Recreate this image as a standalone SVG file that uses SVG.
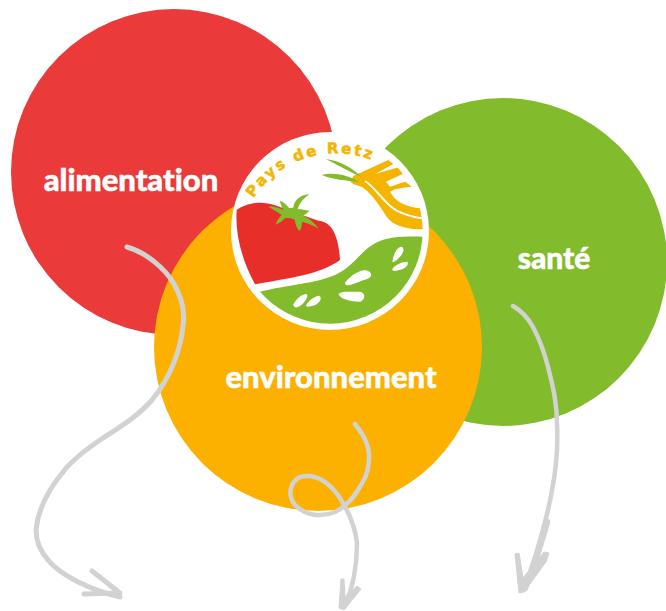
<svg xmlns="http://www.w3.org/2000/svg" width="666" height="611" viewBox="0 0 666 611">
<style>
.label{font-family:"Lato","Liberation Sans",sans-serif;font-weight:900;fill:#fff;stroke:#fff;stroke-width:.5;text-anchor:middle;font-variant-ligatures:none}
.arrow{fill:none;stroke:#d2d2d2;stroke-linecap:round;stroke-linejoin:round}
.head{fill:#d2d2d2;stroke:#d2d2d2;stroke-width:1;stroke-linejoin:round}
.wheat{fill:#f5b400}
.leaf{fill:#82bb2b}
.spot{fill:#fff}
</style>
<defs>
<path id="arc" d="M 53 395 A 295 295 0 0 1 643 395"/>
<clipPath id="inner"><circle cx="330" cy="333" r="278"/></clipPath>
</defs>
<g id="node-alimentation">
<circle cx="174" cy="172" r="163" fill="#ea3a3a"/>
<text class="label" x="131" y="191" font-size="31">alimentation</text>
</g>
<g id="node-sante">
<circle cx="503" cy="262" r="164" fill="#82bb2b"/>
<text class="label" x="554" y="269" font-size="30">santé</text>
</g>
<g id="node-environnement">
<circle cx="318" cy="347" r="164" fill="#fcb000"/>
<text class="label" x="331" y="388" font-size="31">environnement</text>
</g>
<g id="node-logo">
<circle cx="330" cy="231" r="99" fill="#fff"/>
<g transform="translate(220 120) scale(.33333)">
<g clip-path="url(#inner)">
<path class="leaf" d="M120 515C200 495 290 490 345 465C400 440 420 395 465 370C510 347 560 350 610 350L640 640L100 640Z"/>
<path class="wheat" d="M400 168L505 120L520 132L465 162L535 142L553 160L498 185L510 200L555 185L577 200C545 202 520 208 510 215C525 245 560 262 603 265L610 328C560 328 520 318 500 290C475 250 450 215 425 200C412 195 400 195 392 185Z"/>
<path d="M435 183C470 205 490 250 530 272C555 285 580 292 612 296" fill="none" stroke="#fff" stroke-width="6"/>
</g>
<path d="M50 270C75 250 125 240 165 256L295 302C330 305 355 335 360 420C300 465 200 475 105 493C65 420 45 340 50 270Z" fill="#e72e28"/>
<path class="leaf" d="M145 260C160 258 175 262 190 270C185 260 180 250 180 242C192 245 200 255 207 264L220 263C222 245 235 225 268 223C250 235 238 250 233 267C245 268 258 270 268 273C262 280 255 284 250 287C268 295 285 310 296 325C280 318 262 308 246 305C246 315 245 325 238 333C230 325 226 312 224 300C215 294 205 293 195 295C185 305 177 310 167 314C170 302 178 292 185 285C172 275 158 268 145 260Z"/>
<path class="leaf" d="M318 117C360 122 400 145 425 172C390 155 350 135 318 117Z"/>
<path class="leaf" d="M305 165C340 155 385 165 418 186C380 182 335 178 305 165Z"/>
<path class="spot" d="M220 553C230 535 245 522 260 522C268 530 250 555 232 562C225 564 220 560 220 553Z"/>
<path class="spot" d="M258 555C265 545 280 528 298 527C310 535 295 555 275 558C265 560 258 562 258 555Z"/>
<path class="spot" d="M355 522C370 512 390 517 420 515C440 520 435 540 420 545C395 545 360 538 355 522Z"/>
<path class="spot" d="M375 488C385 475 405 455 435 450C458 455 460 470 440 478C420 482 400 495 385 496C378 496 375 494 375 488Z"/>
<path class="spot" d="M517 425C520 405 530 380 545 380C555 385 550 400 540 410C530 420 520 430 517 425Z"/>
<path class="spot" d="M517 447C525 435 545 425 562 425C568 435 555 447 535 451C525 453 517 455 517 447Z"/>
<text font-family="'DejaVu Sans',sans-serif" font-weight="700" font-size="45" letter-spacing="7" fill="#f5b400" stroke="#f5b400" stroke-width="1.5"><textPath href="#arc" startOffset="169">Pays de Retz</textPath></text>
</g>
</g>
<g id="connectors">
<g class="arrow" stroke-width="5">
<path d="M127 247C145 252 165 268 174 284C182 298 185 312 183 325C181 350 170 378 152 400C138 416 120 427 103 438C85 450 72 460 63 472C48 490 38 510 36 530C36 543 41 552 48 560C60 575 90 590 120 597"/>
<path d="M92 571L120 593L84 594"/>
<path d="M355 424C366 438 370 448 369 460C368 475 364 480 358 490C352 500 345 507 335 512C320 518 305 515 295 505C287 495 290 482 300 477C315 473 328 482 338 495C348 510 355 525 357 543C357 565 354 585 345 606" stroke-width="4.5"/>
<path d="M513 306C520 310 528 318 533 327C541 342 545 355 548 367C554 390 557 405 557 425C558 445 556 470 552 490C548 515 535 560 524 590" stroke-width="4.5"/>
</g>
<path class="head" d="M341 579L344 579L345 597L357 586L361 589L344 610L339 608Z"/>
<path class="head" d="M515 554L519 553L523 578L544 552L549 553L546 562L524 592L519 593Z"/>
<path class="arrow" d="M547 522C540 548 532 570 525 588" stroke-width="6.5"/>
</g>
</svg>
